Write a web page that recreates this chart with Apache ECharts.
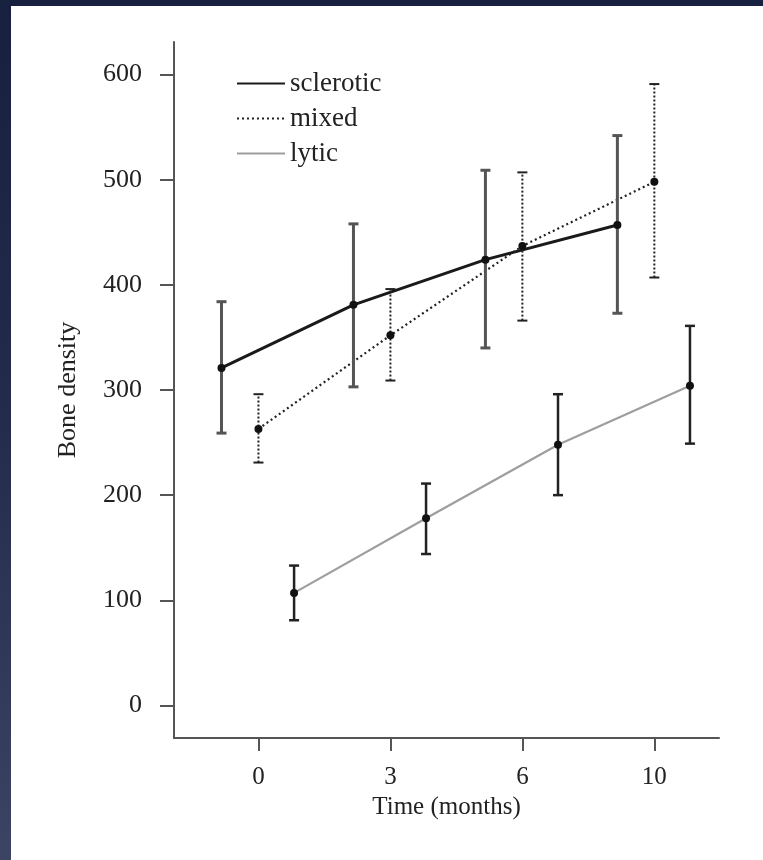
<!DOCTYPE html>
<html>
<head>
<meta charset="utf-8">
<script src="https://cdn.jsdelivr.net/npm/echarts@6/dist/echarts.min.js"></script>
<style>
  html, body { margin: 0; padding: 0; width: 763px; height: 860px; overflow: hidden;
    background: linear-gradient(180deg, #18203f 0%, #232c4c 50%, #3b4463 100%); }
  #chart { position: absolute; left: 11px; top: 6px; width: 752px; height: 854px; background: #ffffff; }
</style>
</head>
<body>
<div id="chart"></div>
<script>
const categories = ['0', '3', '6', '10'];
const yTicks = [0, 100, 200, 300, 400, 500, 600];
const seriesNames = ['sclerotic', 'mixed', 'lytic'];

const scleroticMean = [321, 381, 424, 457];
const scleroticLow  = [259, 303, 340, 373];
const scleroticHigh = [384, 458, 509, 542];

const mixedMean = [263, 352, 437, 498];
const mixedLow  = [231, 309, 366, 407];
const mixedHigh = [296, 396, 507, 591];

const lyticMean = [107, 178, 248, 304];
const lyticLow  = [81, 144, 200, 249];
const lyticHigh = [133, 211, 296, 361];

const FONT = 'Liberation Serif';
const chart = echarts.init(document.getElementById('chart'), null, { renderer: 'canvas' });

function linePts(mean, off) {
  return mean.map((v, i) => [i + off, v]);
}
function errPts(mean, low, high, off) {
  return mean.map((v, i) => [i + off, low[i], high[i], v]);
}
function errSeries(name, data, stroke, width, dash) {
  return {
    type: 'custom',
    name: name + '_err',
    z: 5,
    silent: true,
    data: data,
    encode: { x: 0, y: [1, 2, 3] },
    renderItem: function (params, api) {
      const x = api.value(0);
      const pLo = api.coord([x, api.value(1)]);
      const pHi = api.coord([x, api.value(2)]);
      const pM = api.coord([x, api.value(3)]);
      const cap = 5;
      const style = { stroke: stroke, lineWidth: width, lineDash: dash || null };
      const capStyle = { stroke: stroke, lineWidth: width, lineDash: null };
      return {
        type: 'group',
        children: [
          { type: 'line', shape: { x1: pLo[0], y1: pLo[1], x2: pHi[0], y2: pHi[1] }, style: style },
          { type: 'line', shape: { x1: pLo[0] - cap, y1: pLo[1], x2: pLo[0] + cap, y2: pLo[1] }, style: capStyle },
          { type: 'line', shape: { x1: pHi[0] - cap, y1: pHi[1], x2: pHi[0] + cap, y2: pHi[1] }, style: capStyle },
          { type: 'circle', shape: { cx: pM[0], cy: pM[1], r: 4 }, style: { fill: '#111' }, z2: 10 }
        ]
      };
    }
  };
}

const offS = -0.28, offM = 0, offL = 0.27;

const option = {
  animation: false,
  backgroundColor: '#ffffff',
  grid: { left: 163, right: 44, top: 36, bottom: 122 },
  legend: {
    left: 220, top: 59, orient: 'vertical',
    itemWidth: 48, itemHeight: 14, itemGap: 8,
    data: seriesNames,
    itemStyle: { opacity: 0 },
    textStyle: { fontFamily: FONT, fontSize: 27, color: '#222' }
  },
  xAxis: {
    type: 'value', min: -0.64, max: 3.49,
    name: 'Time (months)', nameLocation: 'middle', nameGap: 57, nameMoveOverlap: false,
    nameTextStyle: { fontFamily: FONT, fontSize: 25, color: '#222' },
    axisLine: { show: true, onZero: false, lineStyle: { color: '#555', width: 2 } },
    axisTick: { show: true, length: 13, lineStyle: { color: '#555', width: 2 }, customValues: [0, 1, 2, 3] },
    axisLabel: { fontFamily: FONT, fontSize: 25, color: '#222', margin: 27,
      customValues: [0, 1, 2, 3], formatter: v => categories[Math.round(v)] },
    splitLine: { show: false }
  },
  yAxis: {
    type: 'value', min: -31, max: 631,
    name: 'Bone density', nameLocation: 'middle', nameGap: 93, nameRotate: 90, nameMoveOverlap: false,
    nameTextStyle: { fontFamily: FONT, fontSize: 26, color: '#222' },
    axisLine: { show: true, onZero: false, lineStyle: { color: '#555', width: 2 } },
    axisTick: { show: true, length: 14, lineStyle: { color: '#555', width: 2 }, customValues: yTicks },
    axisLabel: { fontFamily: FONT, fontSize: 26, color: '#222', margin: 32, customValues: yTicks },
    splitLine: { show: false }
  },
  series: [
    { type: 'line', name: 'sclerotic', data: linePts(scleroticMean, offS), symbol: 'none',
      lineStyle: { color: '#1a1a1a', width: 3 }, itemStyle: { color: '#1a1a1a' }, z: 3 },
    { type: 'line', name: 'mixed', data: linePts(mixedMean, offM), symbol: 'none',
      lineStyle: { color: '#222', width: 2.2, type: [2, 3] }, itemStyle: { color: '#222' }, z: 3 },
    { type: 'line', name: 'lytic', data: linePts(lyticMean, offL), symbol: 'none',
      lineStyle: { color: '#9e9e9e', width: 2.2 }, itemStyle: { color: '#9e9e9e' }, z: 3 },
    errSeries('sclerotic', errPts(scleroticMean, scleroticLow, scleroticHigh, offS), '#555', 3, null),
    errSeries('mixed', errPts(mixedMean, mixedLow, mixedHigh, offM), '#222', 2, [2, 2]),
    errSeries('lytic', errPts(lyticMean, lyticLow, lyticHigh, offL), '#222', 2.5, null)
  ]
};
chart.setOption(option);
</script>
</body>
</html>
